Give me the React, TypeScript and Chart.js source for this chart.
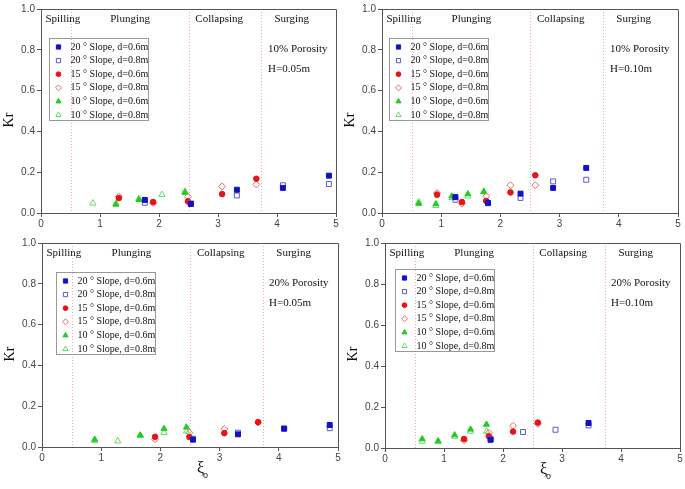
import React, { useEffect, useRef } from 'react';
import { Chart, registerables } from 'chart.js';
import { drawPoint } from 'chart.js/helpers';

Chart.register(...registerables);

const W = 685;
const H = 489;

const X_TICKS = [0, 1, 2, 3, 4, 5];
const Y_TICKS = [0, 0.2, 0.4, 0.6, 0.8, 1.0];
const REGION_BOUNDS = [0.5, 2.5, 3.73];
const REGION_NAMES = ['Spilling', 'Plunging', 'Collapsing', 'Surging'];
const REGION_CENTERS = [0.37, 1.51, 3.02, 4.25];
const SERIES_LABELS = [
  '20 ° Slope, d=0.6m',
  '20 ° Slope, d=0.8m',
  '15 ° Slope, d=0.6m',
  '15 ° Slope, d=0.8m',
  '10 ° Slope, d=0.6m',
  '10 ° Slope, d=0.8m',
];

// Panel A: 10% porosity, H=0.05m
const a20d06 = [[1.76, 0.064], [2.54, 0.044], [3.32, 0.114], [4.10, 0.123], [4.88, 0.183]];
const a20d08 = [[1.76, 0.050], [2.54, 0.047], [3.32, 0.086], [4.10, 0.136], [4.88, 0.142]];
const a15d06 = [[1.32, 0.073], [1.90, 0.054], [2.49, 0.057], [3.07, 0.093], [3.65, 0.168]];
const a15d08 = [[1.32, 0.080], [1.90, 0.049], [2.49, 0.080], [3.07, 0.130], [3.65, 0.140]];
const a10d06 = [[1.27, 0.042], [1.66, 0.065], [2.44, 0.100]];
const a10d08 = [[0.88, 0.048], [1.27, 0.046], [1.66, 0.070], [2.05, 0.090], [2.44, 0.106]];

// Panel B: 10% porosity, H=0.10m
const b20d06 = [[1.24, 0.078], [1.79, 0.050], [2.34, 0.095], [2.89, 0.123], [3.45, 0.221]];
const b20d08 = [[1.24, 0.065], [1.79, 0.048], [2.34, 0.074], [2.89, 0.155], [3.45, 0.163]];
const b15d06 = [[0.93, 0.090], [1.35, 0.054], [1.76, 0.059], [2.17, 0.101], [2.59, 0.185]];
const b15d08 = [[0.93, 0.098], [1.35, 0.046], [1.76, 0.082], [2.17, 0.136], [2.59, 0.136]];
const b10d06 = [[0.62, 0.046], [0.91, 0.044], [1.18, 0.082], [1.45, 0.093], [1.72, 0.103]];
const b10d08 = [[0.62, 0.054], [0.91, 0.036], [1.18, 0.075], [1.45, 0.082], [1.72, 0.106]];

// Panel C: 20% porosity, H=0.05m
const c20d06 = [[2.55, 0.036], [3.31, 0.062], [4.09, 0.090], [4.86, 0.108]];
const c20d08 = [[2.55, 0.040], [3.31, 0.070], [4.09, 0.090], [4.86, 0.092]];
const c15d06 = [[1.91, 0.050], [2.49, 0.049], [3.08, 0.068], [3.65, 0.122]];
const c15d08 = [[1.91, 0.038], [2.49, 0.070], [3.08, 0.088], [3.65, 0.120]];
const c10d06 = [[0.89, 0.037], [1.66, 0.058], [2.06, 0.090], [2.44, 0.097]];
const c10d08 = [[0.89, 0.031], [1.28, 0.029], [1.66, 0.056], [2.06, 0.070], [2.44, 0.077]];

// Panel D: 20% porosity, H=0.10m
const d20d06 = [[1.79, 0.040], [3.45, 0.122]];
const d20d08 = [[1.79, 0.044], [2.34, 0.078], [2.89, 0.089], [3.45, 0.110]];
const d15d06 = [[1.34, 0.044], [1.76, 0.057], [2.17, 0.080], [2.59, 0.124]];
const d15d08 = [[1.34, 0.037], [1.76, 0.074], [2.17, 0.108], [2.59, 0.118]];
const d10d06 = [[0.63, 0.044], [0.90, 0.034], [1.18, 0.063], [1.45, 0.091], [1.72, 0.115]];
const d10d08 = [[0.63, 0.032], [0.90, 0.030], [1.18, 0.056], [1.45, 0.081], [1.72, 0.081]];

const STYLES = [
  { pointStyle: 'rect', radius: 3.5, bg: '#1212c4', border: '#1212c4' },
  { pointStyle: 'rect', radius: 3.5, bg: 'rgba(0,0,0,0)', border: '#5a5ad0' },
  { pointStyle: 'circle', radius: 2.8, bg: '#e81414', border: '#e81414' },
  { pointStyle: 'rectRot', radius: 3.5, bg: 'rgba(0,0,0,0)', border: '#e26a6a' },
  { pointStyle: 'triangle', radius: 3.5, bg: '#22cc22', border: '#22cc22' },
  { pointStyle: 'triangle', radius: 3.6, bg: 'rgba(0,0,0,0)', border: '#66dd66' },
];

const PANELS = [
  { id: 'a', series: [a20d06, a20d08, a15d06, a15d08, a10d06, a10d08], porosity: '10% Porosity', wave: 'H=0.05m',
    area: { L: 41, R: 336, T: 9, B: 213 }, leg: { x: 8, y: 29 }, textDx: 227, xTitle: false },
  { id: 'b', series: [b20d06, b20d08, b15d06, b15d08, b10d06, b10d08], porosity: '10% Porosity', wave: 'H=0.10m',
    area: { L: 382, R: 678, T: 9, B: 213 }, leg: { x: 7, y: 29 }, textDx: 228, xTitle: false },
  { id: 'c', series: [c20d06, c20d08, c15d06, c15d08, c10d06, c10d08], porosity: '20% Porosity', wave: 'H=0.05m',
    area: { L: 42, R: 338, T: 243, B: 447 }, leg: { x: 14, y: 29 }, textDx: 227, xTitle: true },
  { id: 'd', series: [d20d06, d20d08, d15d06, d15d08, d10d06, d10d08], porosity: '20% Porosity', wave: 'H=0.10m',
    area: { L: 385, R: 680, T: 243, B: 448 }, leg: { x: 10, y: 26 }, textDx: 226, xTitle: true },
];

const YW = 41;
const XH = 27;
const SERIF = '"Liberation Serif", "Times New Roman", serif';
const SANS = '"Liberation Sans", Arial, sans-serif';

function makePlugin(p: any) {
  return {
    id: 'panel_' + p.id,
    beforeDatasetsDraw(chart: any) {
      const { ctx, chartArea } = chart;
      const { left, right, top, bottom } = chartArea;
      const x = chart.scales.x;
      ctx.save();
      ctx.strokeStyle = '#eea6b8';
      ctx.lineWidth = 1;
      ctx.setLineDash([1, 2]);
      for (const b of REGION_BOUNDS) {
        const px = Math.round(x.getPixelForValue(b)) + 0.5;
        ctx.beginPath();
        ctx.moveTo(px, top);
        ctx.lineTo(px, bottom);
        ctx.stroke();
      }
      ctx.setLineDash([]);
      ctx.strokeStyle = '#555';
      ctx.beginPath();
      ctx.moveTo(left, top + 0.5);
      ctx.lineTo(right + 0.5, top + 0.5);
      ctx.lineTo(right + 0.5, bottom);
      ctx.stroke();

      ctx.fillStyle = '#111';
      ctx.font = '11px ' + SERIF;
      ctx.textAlign = 'center';
      ctx.textBaseline = 'middle';
      REGION_NAMES.forEach((n, i) => {
        ctx.fillText(n, x.getPixelForValue(REGION_CENTERS[i]), top + 10);
      });
      ctx.textAlign = 'left';
      ctx.fillText(p.porosity, left + p.textDx, top + 40);
      ctx.fillText(p.wave, left + p.textDx, top + 60);

      ctx.save();
      ctx.translate(left - 32, top + 111);
      ctx.rotate(-Math.PI / 2);
      ctx.font = '14px ' + SERIF;
      ctx.textAlign = 'center';
      ctx.textBaseline = 'middle';
      ctx.fillText('Kr', 0, 0);
      ctx.restore();

      if (p.xTitle) {
        ctx.textAlign = 'left';
        ctx.textBaseline = 'alphabetic';
        ctx.font = '16px ' + SERIF;
        ctx.fillText('ξ', left + 155, bottom + 26);
        ctx.font = '10px ' + SERIF;
        ctx.fillText('o', left + 161, bottom + 31);
      }
      ctx.restore();
    },
    afterDatasetsDraw(chart: any) {
      const { ctx, chartArea } = chart;
      const { left, top } = chartArea;
      const bx = Math.round(left + p.leg.x) + 0.5;
      const by = Math.round(top + p.leg.y) + 0.5;
      ctx.save();
      ctx.strokeStyle = '#999';
      ctx.lineWidth = 1;
      ctx.strokeRect(bx, by, 99, 82);
      chart.data.datasets.forEach((ds: any, i: number) => {
        const cy = by + 8.5 + i * 13.6;
        ctx.fillStyle = ds.backgroundColor;
        ctx.strokeStyle = ds.borderColor;
        ctx.lineWidth = 1;
        drawPoint(ctx, { pointStyle: ds.pointStyle, radius: ds.pointRadius * 0.85, borderWidth: 1, rotation: 0 } as any, bx + 9, cy);
        ctx.fillStyle = '#111';
        ctx.font = '10px ' + SERIF;
        ctx.textAlign = 'left';
        ctx.textBaseline = 'middle';
        ctx.fillText(ds.label, bx + 21, cy);
      });
      ctx.restore();
    },
  };
}

function Panel({ p }: { p: any }) {
  const ref = useRef<HTMLCanvasElement | null>(null);
  useEffect(() => {
    if (!ref.current) return;
    const datasets = p.series.map((s: number[][], i: number) => ({
      label: SERIES_LABELS[i],
      data: s.map(([x, y]) => ({ x, y })),
      pointStyle: STYLES[i].pointStyle,
      pointRadius: STYLES[i].radius,
      backgroundColor: STYLES[i].bg,
      borderColor: STYLES[i].border,
      borderWidth: 1,
      showLine: false,
    }));
    const tickFont = { family: SANS, size: 10 };
    const chart = new Chart(ref.current, {
      type: 'scatter',
      data: { datasets },
      options: {
        responsive: false,
        animation: false,
        devicePixelRatio: 1,
        layout: {
          padding: {
            left: p.area.L - YW,
            top: p.area.T,
            right: W - p.area.R,
            bottom: H - p.area.B - XH,
          },
        },
        plugins: { legend: { display: false }, tooltip: { enabled: false } },
        scales: {
          x: {
            type: 'linear',
            min: 0,
            max: 5,
            afterBuildTicks: (s: any) => { s.ticks = X_TICKS.map((v) => ({ value: v })); },
            afterFit: (s: any) => { s.height = XH; },
            ticks: { font: tickFont, color: '#444', padding: 1, callback: (v: any) => String(v) },
            grid: { drawOnChartArea: false, drawTicks: true, tickLength: 4, color: '#555' },
            border: { display: true, color: '#555' },
          },
          y: {
            type: 'linear',
            min: 0,
            max: 1,
            afterBuildTicks: (s: any) => { s.ticks = Y_TICKS.map((v) => ({ value: v })); },
            afterFit: (s: any) => { s.width = YW; },
            ticks: { font: tickFont, color: '#444', padding: 2, callback: (v: any) => Number(v).toFixed(1) },
            grid: { drawOnChartArea: false, drawTicks: true, tickLength: 4, color: '#555' },
            border: { display: true, color: '#555' },
          },
        },
      } as any,
      plugins: [makePlugin(p)],
    });
    return () => chart.destroy();
  }, [p]);
  return (
    <canvas
      ref={ref}
      width={W}
      height={H}
      style={{ position: 'absolute', left: 0, top: 0, width: W, height: H }}
    />
  );
}

export default function App() {
  useEffect(() => {
    document.body.style.margin = '0';
  }, []);
  return (
    <div style={{ position: 'fixed', left: 0, top: 0, width: W, height: H, background: '#fff' }}>
      {PANELS.map((p) => (
        <Panel key={p.id} p={p} />
      ))}
    </div>
  );
}
